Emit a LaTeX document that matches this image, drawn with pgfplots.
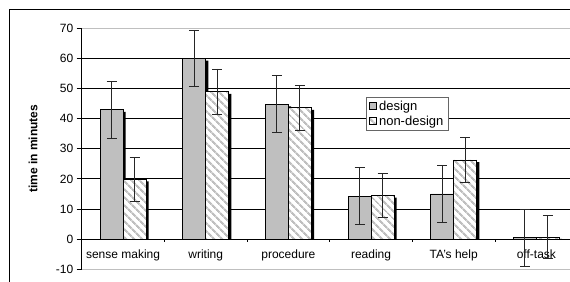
\documentclass[border=0pt]{standalone}
\usepackage{pgfplots}
\pgfplotsset{compat=1.18}
\usepackage{fontspec}
\setmainfont{Liberation Sans}
\usetikzlibrary{patterns.meta}
\newcommand\chfs{\fontsize{12bp}{14bp}\selectfont}
\newcommand\lgfs{\fontsize{13bp}{15bp}\selectfont}
\begin{document}
\begin{tikzpicture}
\useasboundingbox (0,0) rectangle (570bp,-282bp);
\begin{scope}
\clip (0,0) rectangle (570bp,-282bp);
\fill[white] (0,0) rectangle (570bp,-282bp);
\draw[black, line width=1bp] (9bp,-9bp) rectangle (640bp,-330bp);
\begin{axis}[
  at={(81.7bp,-269.3bp)}, anchor=south west,
  scale only axis, width=496bp, height=241bp,
  xmin=-0.5, xmax=5.5, ymin=-10, ymax=70,
  axis x line*=middle, axis y line*=left,
  axis line style={black, line width=1bp},
  xtick={0,...,5},
  xticklabels={{sense making}, {writing}, {procedure}, {reading}, {TA's help}, {off-task}},
  x tick style={draw=none},
  ytick={0,10,...,60},
  extra y ticks={-10,70},
  extra y tick style={major grid style={black!25, line width=1bp}},
  ymajorgrids,
  major grid style={black, line width=1bp},
  tick align=outside, major tick length=5bp,
  y tick style={black, line width=1bp},
  /pgf/number format/assume math mode=true,
  tick label style={font=\chfs, text=black},
  xticklabel style={yshift=-2bp},
  ylabel={time in minutes},
  ylabel style={at={(axis description cs:-0.098,0.5)}, anchor=center, font=\chfs\bfseries},
  ybar, bar width=23bp,
  error bars/y dir=both, error bars/y explicit,
  error bars/error bar style={line width=0.9bp, black!85},
  error bars/error mark options={rotate=90, mark size=5bp, line width=0.9bp, black!85},
  legend cell align=left,
  legend style={at={(rel axis cs:0.573,0.716)}, anchor=north west,
    draw=black!60, line width=0.9bp, inner xsep=3bp, inner ysep=1.5bp,
    row sep=0bp, fill=white},
  legend image code/.code={\draw[#1, line width=0.7bp] (0bp,-3.5bp) rectangle (7bp,3.5bp);},
]
% shadows
\addplot[fill=black, draw=none, bar shift=-8.8bp, forget plot, error bars/y dir=none]
  coordinates {(0,42.3) (1,59.3) (2,44.1) (3,13.6) (4,14.3) (5,0.1)};
\addplot[fill=black, draw=none, bar shift=14.2bp, forget plot, error bars/y dir=none]
  coordinates {(0,19.2) (1,48.2) (2,42.9) (3,13.8) (4,25.6) (5,0.1)};
% design
\addplot[fill=black!25, draw=black, line width=0.9bp, bar shift=-11.5bp]
  coordinates {(0,43.0) +- (0,9.5) (1,60.0) +- (0,9.4) (2,44.8) +- (0,9.4)
               (3,14.3) +- (0,9.4) (4,15.0) +- (0,9.4) (5,0.5) +- (0,9.5)};
\addlegendentry{\lgfs design}
% non-design
\addplot[preaction={fill=white}, pattern={Lines[angle=-45, distance=6bp, line width=2.6bp]},
  pattern color=black!25, draw=black, line width=0.9bp, bar shift=11.5bp]
  coordinates {(0,19.9) +- (0,7.3) (1,48.9) +- (0,7.6) (2,43.6) +- (0,7.5)
               (3,14.5) +- (0,7.4) (4,26.3) +- (0,7.4) (5,0.7) +- (0,7.2)};
\addlegendentry{\lgfs non-design}
% category separator ticks
\pgfplotsinvokeforeach{0.5,1.5,2.5,3.5,4.5}{\draw[black, line width=1bp] (axis cs:#1,0) -- ([yshift=-3bp]axis cs:#1,0);}
\end{axis}
\end{scope}
\end{tikzpicture}
\end{document}
